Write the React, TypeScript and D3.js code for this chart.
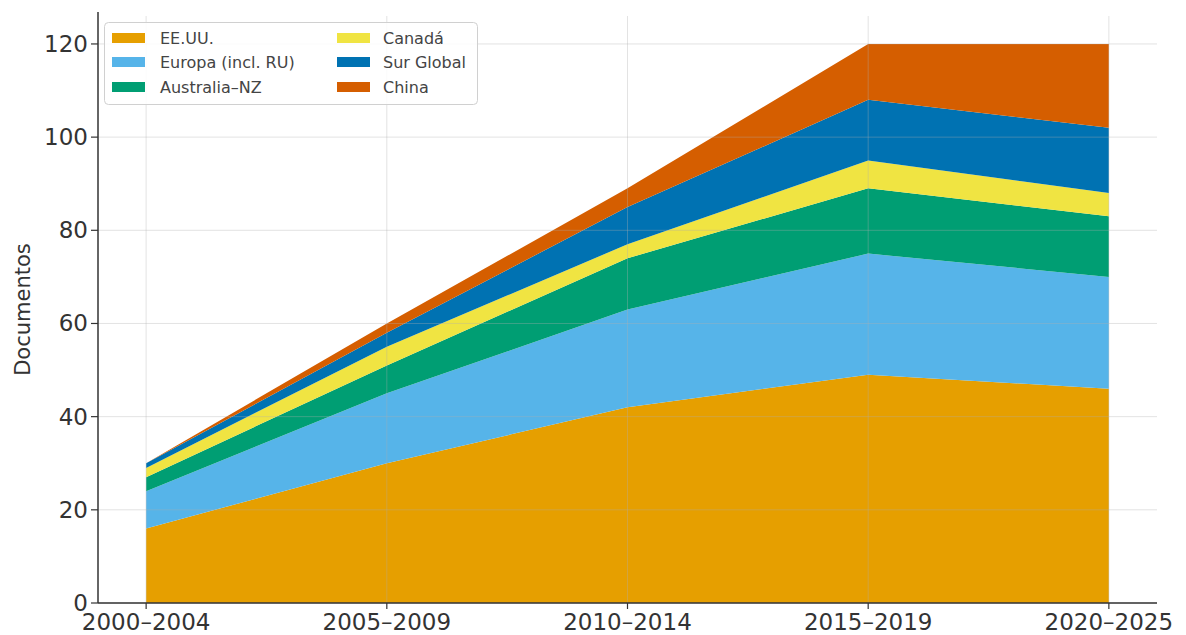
import * as d3 from 'd3'
import { useMemo } from 'react'

const periods = ['2000–2004', '2005–2009', '2010–2014', '2015–2019', '2020–2025']
const regions = ['EE.UU.', 'Europa (incl. RU)', 'Australia–NZ', 'Canadá', 'Sur Global', 'China']
const regionColors = ['#E69F00', '#56B4E9', '#009E73', '#F0E442', '#0072B2', '#D55E00']

const eeuu = [16, 30, 42, 49, 46]
const europa = [8, 15, 21, 26, 24]
const australia = [3, 6, 11, 14, 13]
const canada = [2, 4, 3, 6, 5]
const surGlobal = [1, 3, 8, 13, 14]
const china = [0, 2, 4, 12, 18]

const yTicks = [0, 20, 40, 60, 80, 100, 120]

const width = 1186
const height = 635
const plotLeft = 98
const plotRight = 1157
const plotTop = 16
const plotBottom = 603
const font = 'DejaVu Sans, sans-serif'

export default function App() {
  const series = [eeuu, europa, australia, canada, surGlobal, china]

  const rows = useMemo(
    () =>
      periods.map((period, i) => {
        const row: Record<string, number | string> = { period, index: i }
        regions.forEach((r, k) => {
          row[r] = series[k][i]
        })
        return row
      }),
    [],
  )

  const stacked = d3.stack<Record<string, number | string>>().keys(regions)(rows)

  const x = d3.scaleLinear().domain([-0.2, periods.length - 1 + 0.2]).range([plotLeft, plotRight])
  const y = d3.scaleLinear().domain([0, 126]).range([plotBottom, plotTop])

  const area = d3
    .area<d3.SeriesPoint<Record<string, number | string>>>()
    .x((d) => x(d.data.index as number))
    .y0((d) => y(d[0]))
    .y1((d) => y(d[1]))

  const legendCols = [
    { swatchX: 112, textX: 160 },
    { swatchX: 337, textX: 383 },
  ]
  const legendRowY = [38, 62, 87]

  return (
    <svg
      width={width}
      height={height}
      style={{ position: 'absolute', left: 0, top: 0, background: '#fff' }}
      fontFamily={font}
    >
      {stacked.map((s, k) => (
        <path key={s.key} d={area(s) ?? ''} fill={regionColors[k]} />
      ))}

      {/* grid sits above the filled areas, as in the source */}
      <g stroke="#b0b0b0" strokeOpacity={0.35} strokeWidth={1}>
        {yTicks.map((t) => (
          <line key={`gy${t}`} x1={plotLeft} x2={plotRight} y1={y(t)} y2={y(t)} />
        ))}
        {periods.map((p, i) => (
          <line key={`gx${p}`} x1={x(i)} x2={x(i)} y1={plotTop} y2={plotBottom} />
        ))}
      </g>

      <g stroke="#333" strokeWidth={1.5}>
        <line x1={plotLeft} x2={plotLeft} y1={plotTop - 4} y2={plotBottom} />
        <line x1={plotLeft} x2={plotRight} y1={plotBottom} y2={plotBottom} />
      </g>

      {yTicks.map((t) => (
        <g key={`yt${t}`}>
          <line x1={plotLeft - 7} x2={plotLeft} y1={y(t)} y2={y(t)} stroke="#333" strokeWidth={1.2} />
          <text
            x={plotLeft - 10}
            y={y(t)}
            textAnchor="end"
            dominantBaseline="central"
            fontSize={23}
            fill="#333"
          >
            {t}
          </text>
        </g>
      ))}

      {periods.map((p, i) => (
        <g key={`xt${p}`}>
          <line x1={x(i)} x2={x(i)} y1={plotBottom} y2={plotBottom + 6} stroke="#333" strokeWidth={1.2} />
          <text x={x(i)} y={plotBottom + 27} textAnchor="middle" fontSize={23} fill="#333">
            {p}
          </text>
        </g>
      ))}

      <text
        transform={`translate(30, ${(plotTop + plotBottom) / 2}) rotate(-90)`}
        textAnchor="middle"
        fontSize={21}
        fill="#333"
      >
        Documentos
      </text>

      <g>
        <rect
          x={104.5}
          y={22.5}
          width={373}
          height={82}
          rx={4}
          fill="#fff"
          fillOpacity={0.85}
          stroke="#d0d0d0"
          strokeWidth={1}
        />
        {regions.map((r, k) => {
          const col = legendCols[Math.floor(k / 3)]
          const cy = legendRowY[k % 3]
          return (
            <g key={`lg${r}`}>
              <rect x={col.swatchX} y={cy - 5} width={33} height={10} fill={regionColors[k]} />
              <text x={col.textX} y={cy} dominantBaseline="central" fontSize={16} fill="#444">
                {r}
              </text>
            </g>
          )
        })}
      </g>
    </svg>
  )
}
